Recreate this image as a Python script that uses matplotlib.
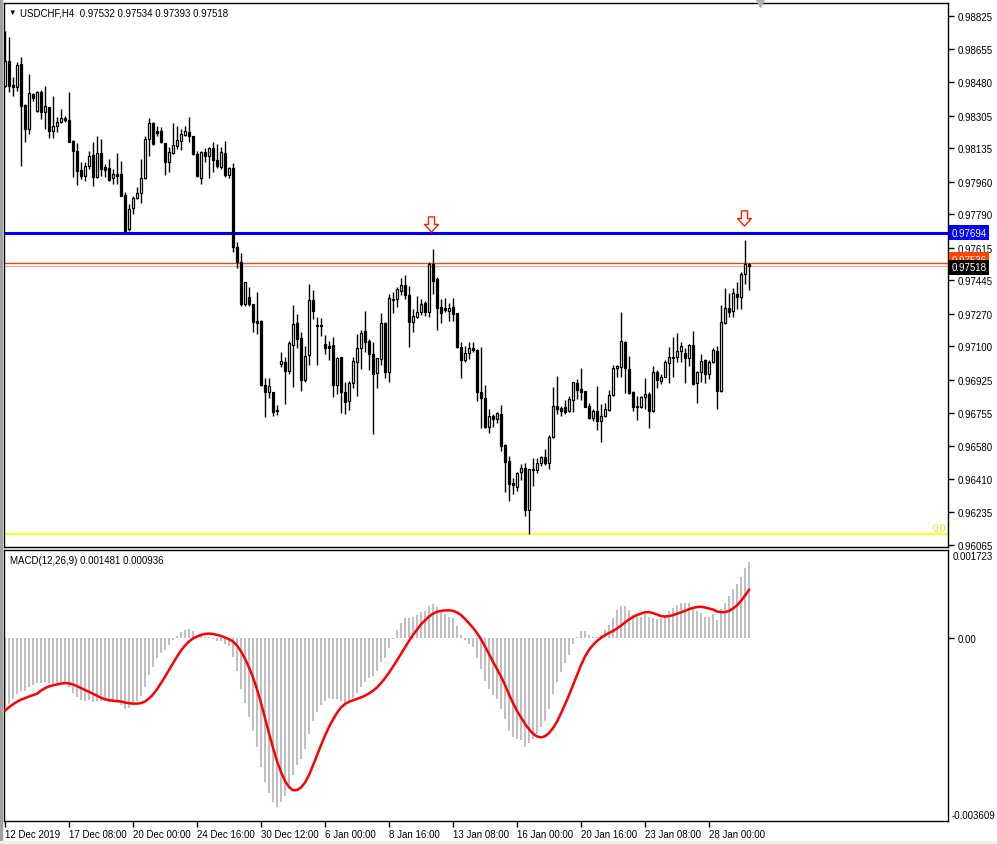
import matplotlib
matplotlib.use('Agg')
import matplotlib.pyplot as plt
import numpy as np
from matplotlib.path import Path
from matplotlib.patches import Rectangle

# ---------------- data ----------------
opens = [0.98459,0.98591,0.98465,0.98454,0.98575,0.98361,0.98235,0.98418,0.98330,0.98428,
0.98324,0.98350,0.98225,0.98251,0.98272,0.98293,0.98283,0.98173,0.98121,0.98022,
0.97990,0.98042,0.98100,0.97985,0.98110,0.98037,0.98032,0.97980,0.98001,0.98001,
0.97891,0.97713,0.97823,0.97875,0.97901,0.97980,0.98183,0.98267,0.98225,0.98225,
0.98162,0.98063,0.98110,0.98146,0.98173,0.98204,0.98219,0.98198,0.98105,0.97980,
0.98115,0.98094,0.98136,0.98074,0.98037,0.98110,0.97996,0.98032,0.97619,0.97541,
0.97322,0.97358,0.97322,0.97234,0.97234,0.96899,0.96862,0.96862,0.96769,0.97009,
0.97019,0.96973,0.97108,0.97223,0.97144,0.96925,0.97056,0.97343,0.97213,0.97213,
0.97113,0.97102,0.97108,0.96899,0.97045,0.96862,0.96816,0.96909,0.97019,0.97092,
0.97181,0.97129,0.97061,0.96962,0.97035,0.97223,0.96967,0.97343,0.97348,0.97390,
0.97421,0.97369,0.97228,0.97254,0.97280,0.97327,0.97280,0.97531,0.97452,0.97306,
0.97301,0.97286,0.97306,0.97275,0.97097,0.97030,0.97066,0.97092,0.97082,0.96862,
0.96831,0.96680,0.96737,0.96722,0.96748,0.96586,0.96503,0.96387,0.96366,0.96445,
0.96466,0.96247,0.96456,0.96456,0.96492,0.96523,0.96492,0.96628,0.96789,0.96779,
0.96784,0.96764,0.96821,0.96909,0.96878,0.96867,0.96789,0.96727,0.96764,0.96711,
0.96737,0.96769,0.96847,0.96988,0.96993,0.97123,0.96983,0.96862,0.96789,0.96784,
0.96836,0.96852,0.96764,0.96967,0.96920,0.96941,0.97014,0.97040,0.97045,0.97076,
0.97066,0.97040,0.97108,0.96909,0.96967,0.97030,0.96957,0.97019,0.97076,0.96868,
0.97223,0.97301,0.97286,0.97374,0.97358,0.97478,0.97532]

highs = [0.98747,0.98715,0.98507,0.98585,0.98611,0.98366,0.98523,0.98423,0.98434,0.98439,
0.98459,0.98350,0.98407,0.98298,0.98340,0.98303,0.98428,0.98178,0.98162,0.98063,
0.98063,0.98121,0.98167,0.98198,0.98183,0.98053,0.98079,0.98027,0.98110,0.98069,
0.97906,0.97844,0.97885,0.97932,0.98079,0.98198,0.98293,0.98272,0.98251,0.98246,
0.98162,0.98141,0.98267,0.98251,0.98235,0.98251,0.98298,0.98198,0.98121,0.98121,
0.98136,0.98141,0.98167,0.98157,0.98141,0.98173,0.98037,0.98058,0.97645,0.97588,
0.97436,0.97410,0.97322,0.97384,0.97239,0.96936,0.96936,0.96862,0.96795,0.97071,
0.97045,0.97129,0.97317,0.97270,0.97175,0.97102,0.97426,0.97395,0.97254,0.97249,
0.97160,0.97129,0.97149,0.97045,0.97045,0.96914,0.96920,0.97045,0.97165,0.97186,
0.97286,0.97139,0.97123,0.97040,0.97275,0.97228,0.97374,0.97384,0.97410,0.97457,
0.97473,0.97415,0.97296,0.97363,0.97348,0.97338,0.97541,0.97609,0.97463,0.97348,
0.97353,0.97327,0.97353,0.97275,0.97123,0.97102,0.97123,0.97123,0.97087,0.97097,
0.96899,0.96774,0.96748,0.96758,0.96795,0.96591,0.96529,0.96414,0.96445,0.96487,
0.96492,0.96461,0.96518,0.96518,0.96529,0.96565,0.96638,0.96888,0.96946,0.96789,
0.96821,0.96841,0.96914,0.96930,0.96988,0.96867,0.96805,0.96774,0.96893,0.96800,
0.96805,0.96873,0.97004,0.97004,0.97280,0.97129,0.97050,0.96867,0.96841,0.96841,
0.96936,0.96862,0.96999,0.96978,0.96957,0.97030,0.97097,0.97149,0.97170,0.97123,
0.97092,0.97113,0.97181,0.96973,0.97061,0.97035,0.97030,0.97092,0.97102,0.97317,
0.97405,0.97379,0.97405,0.97436,0.97489,0.97656,0.97534]

lows = [0.98454,0.98428,0.98407,0.98434,0.98042,0.98167,0.98209,0.98382,0.98324,0.98288,
0.98235,0.98188,0.98188,0.98219,0.98267,0.98272,0.98167,0.97985,0.97943,0.97974,
0.97964,0.98027,0.97937,0.97980,0.97990,0.97985,0.97964,0.97948,0.97948,0.97885,
0.97697,0.97703,0.97792,0.97870,0.97849,0.97974,0.98094,0.98152,0.98198,0.98162,
0.97996,0.98011,0.98105,0.98131,0.98126,0.98198,0.98167,0.98100,0.97985,0.97948,
0.98063,0.97980,0.98011,0.98032,0.98027,0.97985,0.97980,0.97593,0.97510,0.97311,
0.97311,0.97311,0.97175,0.97165,0.96893,0.96732,0.96831,0.96737,0.96743,0.96993,
0.96800,0.96957,0.96888,0.97092,0.96868,0.96914,0.97004,0.97244,0.97004,0.97154,
0.97061,0.97030,0.96836,0.96852,0.96753,0.96748,0.96769,0.96883,0.96841,0.96983,
0.97071,0.96978,0.96643,0.96883,0.97004,0.96936,0.96914,0.97275,0.97306,0.97369,
0.97348,0.97097,0.97175,0.97249,0.97265,0.97259,0.97254,0.97374,0.97186,0.97223,
0.97280,0.97234,0.97234,0.97092,0.96936,0.97019,0.97035,0.97071,0.96816,0.96674,
0.96674,0.96648,0.96680,0.96701,0.96554,0.96340,0.96294,0.96330,0.96345,0.96403,
0.96216,0.96121,0.96372,0.96440,0.96476,0.96482,0.96461,0.96622,0.96748,0.96737,
0.96748,0.96758,0.96758,0.96826,0.96821,0.96784,0.96722,0.96711,0.96664,0.96601,
0.96732,0.96764,0.96841,0.96941,0.96941,0.96857,0.96852,0.96764,0.96717,0.96779,
0.96774,0.96674,0.96758,0.96883,0.96904,0.96941,0.96909,0.96941,0.97019,0.97019,
0.96909,0.96998,0.96899,0.96805,0.96914,0.96909,0.96930,0.97014,0.96774,0.96862,
0.97218,0.97254,0.97254,0.97296,0.97296,0.97426,0.97393]

closes = [0.98591,0.98459,0.98454,0.98570,0.98355,0.98235,0.98423,0.98397,0.98428,0.98324,
0.98355,0.98225,0.98251,0.98272,0.98293,0.98283,0.98167,0.98121,0.98017,0.97990,
0.98042,0.98094,0.97985,0.98110,0.98027,0.98022,0.97969,0.98001,0.97990,0.97885,
0.97703,0.97818,0.97875,0.97901,0.97980,0.98183,0.98267,0.98157,0.98214,0.98167,
0.98063,0.98115,0.98152,0.98178,0.98209,0.98225,0.98198,0.98105,0.97990,0.98115,
0.98094,0.98136,0.98074,0.98042,0.98115,0.97996,0.98032,0.97619,0.97541,0.97322,
0.97436,0.97322,0.97228,0.97223,0.96899,0.96862,0.96893,0.96758,0.96764,0.97025,
0.96973,0.97118,0.97218,0.97139,0.96925,0.97050,0.97343,0.97286,0.97208,0.97208,
0.97092,0.97092,0.96899,0.97040,0.96862,0.96810,0.96909,0.97025,0.97092,0.97170,
0.97123,0.97061,0.96957,0.97040,0.97223,0.96967,0.97353,0.97348,0.97400,0.97421,
0.97369,0.97228,0.97259,0.97280,0.97322,0.97280,0.97531,0.97442,0.97301,0.97275,
0.97291,0.97301,0.97270,0.97097,0.97030,0.97066,0.97092,0.97082,0.96862,0.96831,
0.96680,0.96737,0.96722,0.96753,0.96580,0.96497,0.96382,0.96377,0.96440,0.96466,
0.96247,0.96461,0.96461,0.96492,0.96523,0.96492,0.96628,0.96789,0.96774,0.96764,
0.96758,0.96826,0.96914,0.96873,0.96862,0.96784,0.96727,0.96764,0.96711,0.96737,
0.96774,0.96847,0.96988,0.96999,0.97129,0.96988,0.96857,0.96784,0.96784,0.96836,
0.96852,0.96764,0.96967,0.96925,0.96941,0.97019,0.97045,0.97045,0.97076,0.97102,
0.97040,0.97108,0.96904,0.96967,0.97025,0.96957,0.97019,0.97082,0.96868,0.97228,
0.97301,0.97280,0.97379,0.97358,0.97478,0.97531,0.97518]

macd_main = [-0.00144,-0.00130,-0.00120,-0.00111,-0.00105,-0.00105,-0.00097,-0.00093,-0.00089,-0.00089,
-0.00087,-0.00089,-0.00091,-0.00091,-0.00089,-0.00089,-0.00097,-0.00109,-0.00117,-0.00122,
-0.00124,-0.00122,-0.00126,-0.00124,-0.00124,-0.00124,-0.00126,-0.00126,-0.00128,-0.00132,
-0.00140,-0.00138,-0.00132,-0.00124,-0.00115,-0.00097,-0.00073,-0.00057,-0.00041,-0.00030,
-0.00024,-0.00014,-0.00004,0.00004,0.00010,0.00014,0.00016,0.00012,0.00004,0.00006,
0.00002,0.00002,-0.00002,-0.00006,-0.00006,-0.00012,-0.00016,-0.00038,-0.00065,-0.00101,
-0.00128,-0.00156,-0.00184,-0.00215,-0.00255,-0.00284,-0.00306,-0.00324,-0.00334,-0.00324,
-0.00312,-0.00294,-0.00271,-0.00251,-0.00239,-0.00219,-0.00190,-0.00164,-0.00146,-0.00132,
-0.00124,-0.00118,-0.00120,-0.00120,-0.00124,-0.00128,-0.00126,-0.00118,-0.00109,-0.00097,
-0.00087,-0.00079,-0.00075,-0.00065,-0.00049,-0.00041,-0.00020,-0.00002,0.00014,0.00028,
0.00038,0.00038,0.00041,0.00045,0.00051,0.00053,0.00063,0.00067,0.00061,0.00053,
0.00047,0.00041,0.00038,0.00022,0.00006,-0.00004,-0.00012,-0.00018,-0.00041,-0.00061,
-0.00085,-0.00101,-0.00113,-0.00120,-0.00140,-0.00160,-0.00184,-0.00196,-0.00199,-0.00201,
-0.00215,-0.00207,-0.00199,-0.00190,-0.00176,-0.00164,-0.00140,-0.00111,-0.00087,-0.00067,
-0.00051,-0.00034,-0.00012,0.00002,0.00012,0.00012,0.00006,0.00002,0.00002,0.00006,
0.00014,0.00024,0.00039,0.00055,0.00063,0.00063,0.00055,0.00045,0.00041,0.00041,
0.00047,0.00041,0.00038,0.00036,0.00038,0.00045,0.00053,0.00059,0.00065,0.00069,
0.00069,0.00069,0.00059,0.00053,0.00049,0.00041,0.00041,0.00047,0.00034,0.00057,
0.00069,0.00081,0.00095,0.00105,0.00120,0.00136,0.001481]

price_ticks = [0.98825,0.98655,0.98480,0.98305,0.98135,0.97960,0.97790,0.97615,0.97445,
               0.97270,0.97100,0.96925,0.96755,0.96580,0.96410,0.96235,0.96065]
date_tick_bars = [0,16,32,48,64,80,96,112,128,144,160,176]
date_labels = ["12 Dec 2019","17 Dec 08:00","20 Dec 00:00","24 Dec 16:00","30 Dec 12:00",
               "6 Jan 00:00","8 Jan 16:00","13 Jan 08:00","16 Jan 00:00","20 Jan 16:00",
               "23 Jan 08:00","28 Jan 00:00"]

level_blue = 0.97694
level_orange = 0.97536
level_bid = 0.97518
level_fibo0 = 0.96121
arrow_bars = [106.5, 184.8]
arrow_prices = [0.97740, 0.97771]

symbol_text = "USDCHF,H4  0.97532 0.97534 0.97393 0.97518"
macd_text = "MACD(12,26,9) 0.001481 0.000936"

# ---------------- drawing ----------------
plt.rcParams['font.family'] = ['Liberation Sans', 'DejaVu Sans']
FS = 7

W, H = 997, 845
fig = plt.figure(figsize=(W/100, H/100), dpi=100)
fig.patch.set_facecolor('white')

def rect(l, t, r, b):
    return [l/W, 1-b/H, (r-l)/W, (b-t)/H]

ax = fig.add_axes(rect(4, 4, 948, 548))
ax2 = fig.add_axes(rect(4, 551, 948, 822))

O = np.array(opens); Hh = np.array(highs); L = np.array(lows); C = np.array(closes)
n = len(C)
x = np.arange(n)

ax.vlines(x, L, Hh, color='black', lw=1.0, zorder=3)
up = C >= O
bottom = np.minimum(O, C)
height = np.maximum(np.abs(C - O), 0.000012)
ax.bar(x, height, bottom=bottom, width=0.5,
       color=np.where(up, 'white', 'black'), edgecolor='black', linewidth=0.9, zorder=4)

ax.axhline(level_blue, color='#0000FF', lw=2.2, zorder=2)
ax.axhline(level_orange, color='#FF4500', lw=1.0, zorder=2)
ax.axhline(level_bid, color='#C0C0C0', lw=1.0, zorder=2)
ax.axhline(level_fibo0, color='#FFFF00', lw=1.3, zorder=2)

arrow_verts = [(-0.2, 0.5), (0.2, 0.5), (0.2, 0.0), (0.45, 0.0), (0, -0.5),
               (-0.45, 0.0), (-0.2, 0.0), (-0.2, 0.5)]
ax.plot(arrow_bars, arrow_prices, ls='none', marker=Path(arrow_verts), ms=11,
        mfc='white', mec='#FF2000', mew=1.0, zorder=5)

ax.set_xlim(-0.25, 235.75)
ax.set_ylim(0.96053, 0.98893)
ax.set_xticks([])
ax.yaxis.tick_right()
ax.set_yticks(price_ticks)
ax.set_yticklabels([f"{v:.5f}" for v in price_ticks])
ax.tick_params(axis='y', direction='out', length=4, width=1, pad=3, labelsize=FS, colors='black')
for s in ax.spines.values():
    s.set_color('black'); s.set_linewidth(1)

ytr = ax.get_yaxis_transform()
ax.text(0.998, level_fibo0 + 0.00006, '0.0', color='#E8E800', fontsize=FS, ha='right', va='bottom',
        transform=ytr)
ax.text(1.0035, level_orange + 0.00016, '0.97536', color='white', fontsize=FS, ha='left', va='center',
        transform=ytr, clip_on=False, zorder=6,
        bbox=dict(facecolor='#FF4500', edgecolor='none', pad=1.8))
ax.text(1.0035, level_bid - 0.00004, '0.97518', color='white', fontsize=FS, ha='left', va='center',
        transform=ytr, clip_on=False, zorder=7,
        bbox=dict(facecolor='black', edgecolor='none', pad=1.8))
ax.text(1.0035, level_blue, '0.97694', color='white', fontsize=FS, ha='left', va='center',
        transform=ytr, clip_on=False, zorder=7,
        bbox=dict(facecolor='#0000FF', edgecolor='none', pad=1.8))

ax.plot([188.75], [0.98893], marker='v', color='#B0B0B0', ms=6, clip_on=False, zorder=6)

fig.text(8/W, 1-13/H, '\u25BC', fontsize=5.5, va='center', ha='left', color='black')
fig.text(20/W, 1-13/H, symbol_text, fontsize=FS, va='center', ha='left', color='black')

# MACD panel
macd = np.array(macd_main)
signal = np.array([macd[max(0, i-8):i+1].mean() for i in range(n)])
ax2.bar(x, macd, width=0.7, color='#C0C0C0', zorder=2)
ax2.plot(x, signal, color='#FF0000', lw=1.8, zorder=3)
ax2.set_xlim(-0.25, 235.75)
ax2.set_ylim(-0.003609, 0.001723)
ax2.yaxis.tick_right()
ax2.set_yticks([0.0])
ax2.set_yticklabels(['0.00'])
ax2.tick_params(axis='y', direction='out', length=4, width=1, pad=3, labelsize=FS)
ax2.set_xticks(date_tick_bars)
ax2.set_xticklabels(date_labels)
ax2.tick_params(axis='x', direction='out', length=4, width=1, pad=2, labelsize=FS)
for lbl in ax2.get_xticklabels():
    lbl.set_ha('left')
for s in ax2.spines.values():
    s.set_color('black'); s.set_linewidth(1)
ax2.text(1.005, 0.995, '0.001723', transform=ax2.transAxes, fontsize=FS, va='top', ha='left')
ax2.text(1.004, 0.005, '-0.003609', transform=ax2.transAxes, fontsize=FS, va='bottom', ha='left')
fig.text(10/W, 1-561/H, macd_text, fontsize=FS, va='center', ha='left', color='black')

# window frame
fig.patches.append(Rectangle((0, 0), 2/W, 1, transform=fig.transFigure, color='#A0A0A0', zorder=0))
fig.patches.append(Rectangle((0, 0), 1, 3/H, transform=fig.transFigure, color='#F0F0F0', zorder=0))

fig.savefig('out.png', dpi=100, facecolor='white')
